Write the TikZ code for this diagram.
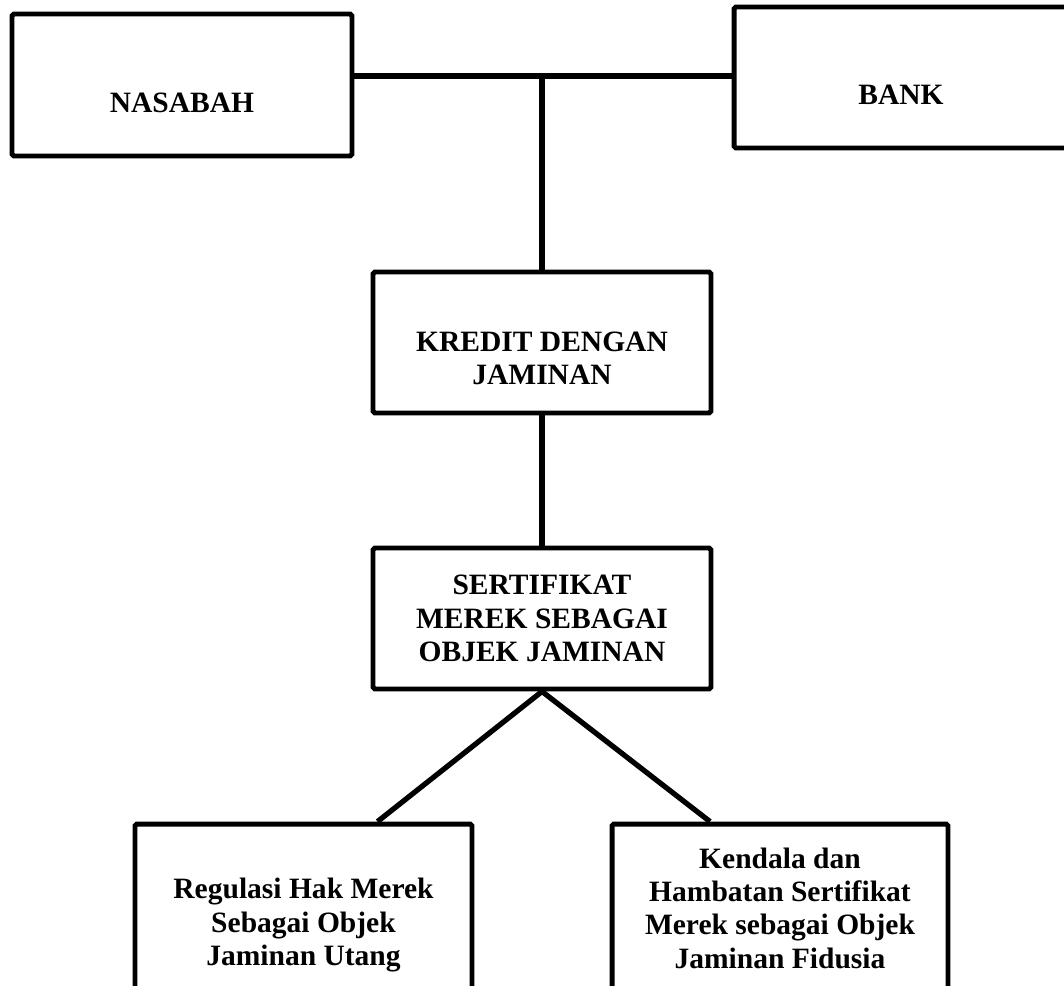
\documentclass[tikz,border=0pt]{standalone}
\usepackage{fontspec}
\setmainfont{Liberation Serif}
\usetikzlibrary{calc}
\tikzset{
  kotak/.style={draw,line width=2.8pt,rounded corners=1pt,inner sep=0pt},
  teks/.style={align=center,inner sep=0pt,font=\fontsize{16.8}{19}\selectfont\bfseries},
  garis/.style={line width=3pt}
}
\begin{document}
\begin{tikzpicture}[x=0.02cm,y=-0.02cm]
\useasboundingbox (0,0) rectangle (1064,985);
\clip (0,0) rectangle (1064,985);
% kotak atas
\node[kotak,minimum width=6.8cm,minimum height=2.84cm] (nasabah) at (182,85) {};
\node[kotak,minimum width=6.68cm,minimum height=2.82cm] (bank) at (901,77.5) {};
\node[teks] (tNasabah) at (182,103) {NASABAH};
\node[teks] (tBank) at (901,95) {BANK};
% kotak tengah
\node[kotak,minimum width=6.76cm,minimum height=2.82cm] (kredit) at (542,342.5) {};
\node[kotak,minimum width=6.76cm,minimum height=2.82cm] (sertifikat) at (542,618.5) {};
\node[teks] (tKredit) at (542,358.5) {KREDIT DENGAN\\JAMINAN};
\node[teks] (tSertifikat) at (542,618.5) {SERTIFIKAT\\MEREK SEBAGAI\\OBJEK JAMINAN};
% kotak bawah
\node[kotak,minimum width=6.74cm,minimum height=4cm] (regulasi) at (303.5,924) {};
\node[kotak,minimum width=6.72cm,minimum height=4cm] (kendala) at (780,924) {};
\node[teks] (tRegulasi) at (303.5,925) {Regulasi Hak Merek\\Sebagai Objek\\Jaminan Utang};
\node[teks] (tKendala) at (780,908) {Kendala dan\\Hambatan Sertifikat\\Merek sebagai Objek\\Jaminan Fidusia};
% garis penghubung
\coordinate (simpang) at (542,76);
\draw[garis] (nasabah.east |- simpang) -- (bank.west |- simpang);
\draw[garis] (simpang) -- (kredit.north);
\draw[garis] (kredit.south) -- (sertifikat.north);
\draw[garis] (sertifikat.south) -- ($(regulasi.north)+(74,0)$);
\draw[garis] (sertifikat.south) -- ($(kendala.north)+(-70,0)$);
\end{tikzpicture}
\end{document}
